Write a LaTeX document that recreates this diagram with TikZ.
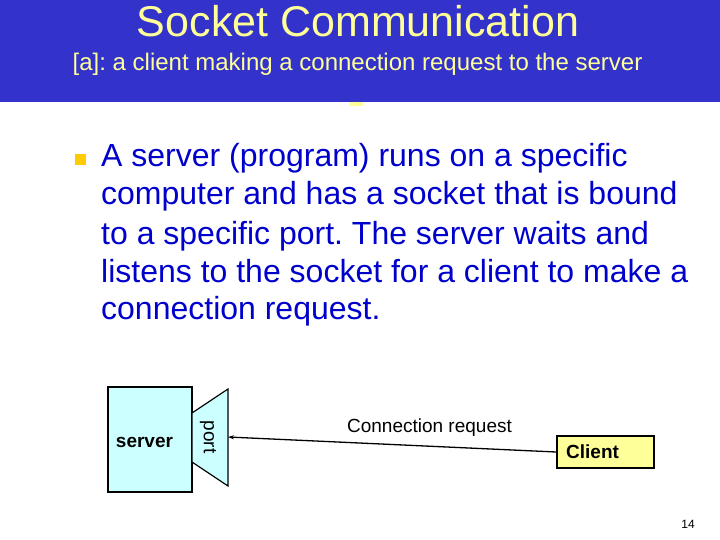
\documentclass[tikz,border=0pt]{standalone}
\usepackage{fontspec}
\setmainfont{Liberation Sans}
\usetikzlibrary{arrows.meta}
\frenchspacing
\definecolor{hdr}{RGB}{51,51,204}
\definecolor{titley}{RGB}{255,255,153}
\definecolor{bodyblue}{RGB}{0,0,204}
\definecolor{bulletc}{RGB}{255,204,0}
\definecolor{servfill}{RGB}{204,255,255}
\definecolor{clientfill}{RGB}{255,255,153}
\tikzset{
  bodyline/.style={anchor=base west, inner sep=0, text=bodyblue, font=\fontsize{32}{38}\selectfont},
  diaglabel/.style={inner sep=0, font=\fontsize{19}{22}\selectfont},
  boldlabel/.style={inner sep=0, font=\bfseries\fontsize{19}{22}\selectfont},
  serverbox/.style={draw=black, line width=1.5pt, fill=servfill, minimum width=84pt, minimum height=105pt, inner sep=0},
  clientbox/.style={draw=black, line width=1.8pt, fill=clientfill, minimum width=97pt, minimum height=32pt, inner sep=0},
  portshape/.style={draw=black, line width=1.2pt, fill=servfill, line join=miter},
  reqline/.style={draw=black, line width=1.3pt, -{Stealth[length=6pt,width=4pt]}}
}
\begin{document}
\begin{tikzpicture}[x=1pt,y=-1pt]
\useasboundingbox (0,0) rectangle (720,540);
% header
\fill[hdr] (0,0) rectangle (720,102);
\fill[titley] (350,102) rectangle (363,106);
\node[anchor=base, inner sep=0, text=titley, font=\fontsize{43}{50}\selectfont] (title) at (358,37) {Socket Communication};
\node[anchor=base, inner sep=0, text=titley, font=\fontsize{24}{28}\selectfont] (subtitle) at (357.5,71) {[a]: a client making a connection request to the server};
% bullet text
\fill[bulletc] (75,154) rectangle (86,165);
\node[bodyline] (l1) at (101,167) {A server (program) runs on a specific};
\node[bodyline] (l2) at (101,205) {computer and has a socket that is bound};
\node[bodyline] (l3) at (101,244) {to a specific port. The server waits and};
\node[bodyline] (l4) at (101,282) {listens to the socket for a client to make a};
\node[bodyline] (l5) at (101,319) {connection request.};
% diagram
\node[serverbox] (server) at (150,439.5) {};
\node[boldlabel, anchor=base] (serverlbl) at (144.5,447) {server};
\draw[portshape] (192,413) -- (228,389) -- (228,486) -- (192,462) -- cycle;
\coordinate (port) at (228,437);
\node[diaglabel, rotate=-90] (portlbl) at (208,437) {port};
\node[clientbox] (client) at (605.5,452) {};
\node[boldlabel, anchor=base west] (clientlbl) at (566,458) {Client};
\node[diaglabel, anchor=base] (reqlbl) at (429.5,432) {Connection request};
\draw[reqline] (client.west) -- (port);
% page number
\node[anchor=base east, inner sep=0, font=\fontsize{12}{14}\selectfont] (pagenum) at (695,528) {14};
\end{tikzpicture}
\end{document}
